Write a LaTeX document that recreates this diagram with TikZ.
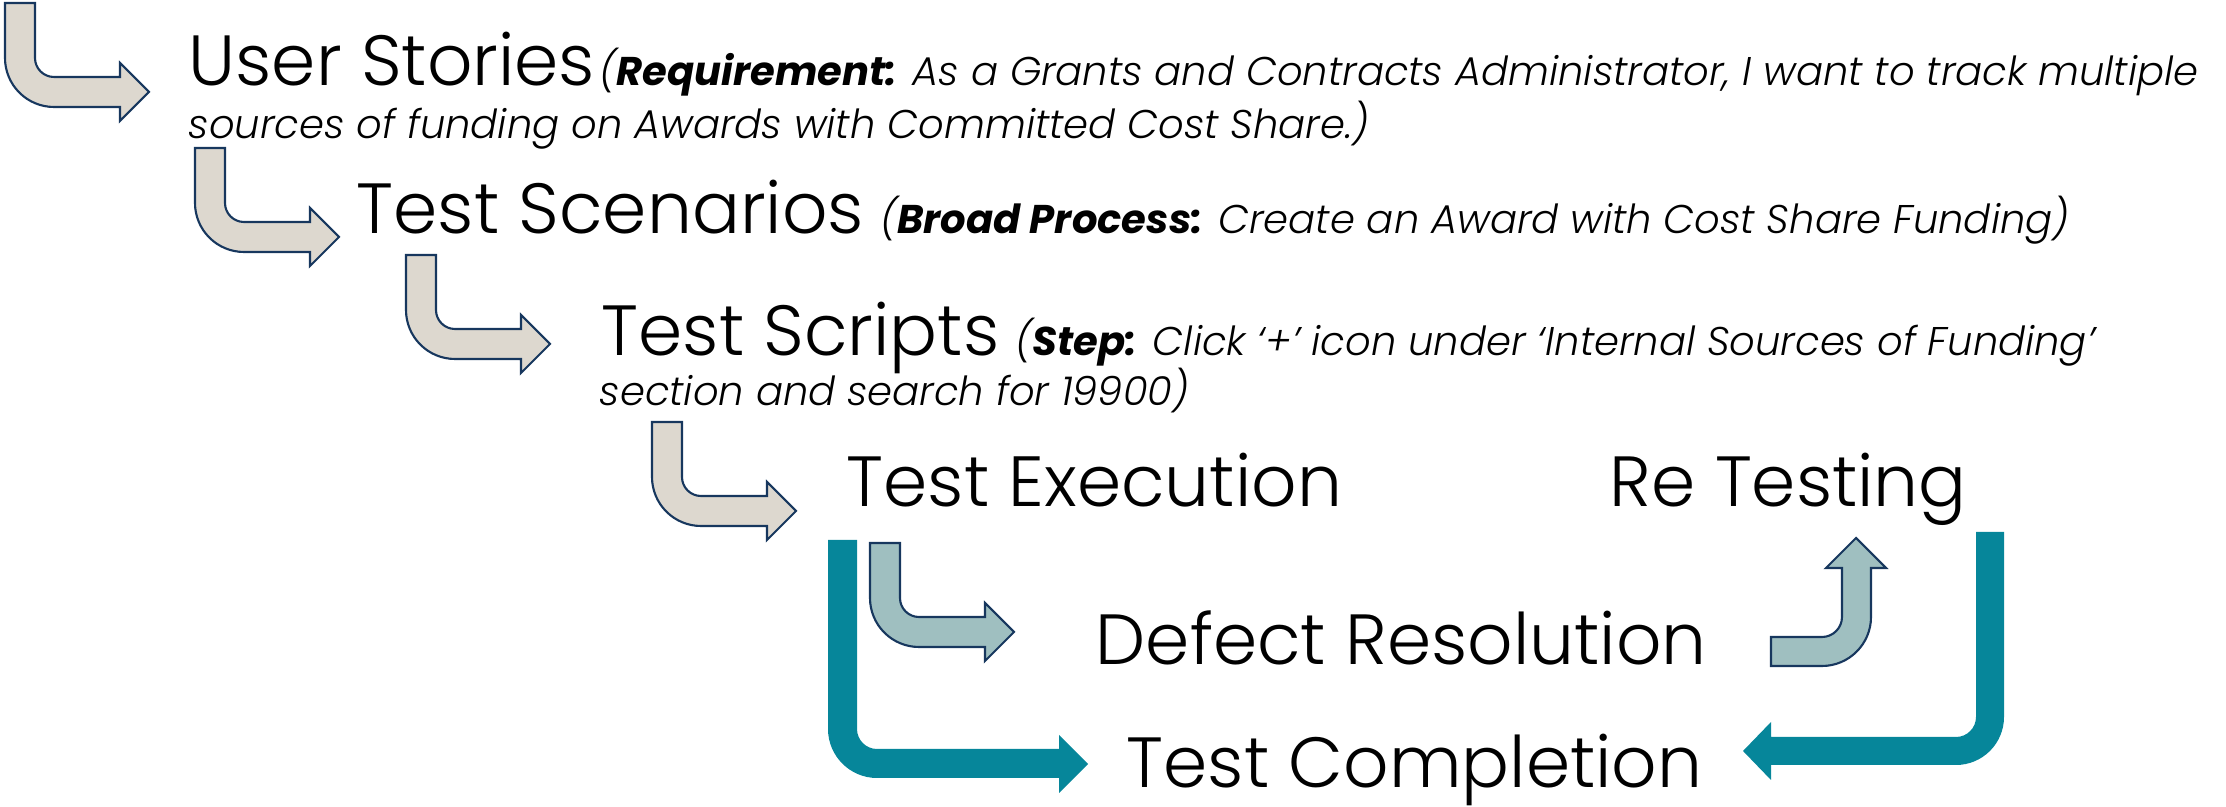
\documentclass[tikz,border=0pt]{standalone}
\usepackage{fontspec}
\setmainfont{Poppins}
\newfontfamily\lightfont{Poppins Light}
\usepackage{tikz}
\usetikzlibrary{calc,positioning}

\definecolor{cBeige}{RGB}{221,216,207}
\definecolor{cNavy}{RGB}{23,55,94}
\definecolor{cPale}{RGB}{159,191,192}
\definecolor{cTeal}{RGB}{6,134,154}

\newcommand{\keyword}[1]{{\rmfamily\bfseries #1}}

\tikzset{
    bigtext/.style={anchor=base west, inner sep=0pt, font=\lightfont\fontsize{20.2}{24}\selectfont},
    desctext/.style={anchor=base west, inner sep=0pt, font=\lightfont\fontsize{11.4}{15}\selectfont\itshape},
    bendarrow/.style={draw=cNavy, line width=0.6pt, line join=miter},
}

\begin{document}
\begin{tikzpicture}[x=0.01cm, y=-0.01cm]
       \useasboundingbox (0,0) rectangle (2226,807);

       %小的彎箭頭
       \foreach \x/\y/\c in
       {5/3/cBeige,
           195/148/cBeige,
           406/255/cBeige,
           652/422/cBeige,
           870/543/cPale}
        {
            \begin{scope}[shift={(\x,\y)}]
                \draw[bendarrow, fill=\c] (0,0) -- (30,0) -- (30,55) .. controls (30,65.5) and (38.5,74) .. (49,74) -- (115,74) -- (115,60) -- (144,89) -- (115,118) -- (115,104) -- (49,104) .. controls (22,104) and (0,82) .. (0,55) -- cycle;
            \end{scope}
        };

       %往上的彎箭頭
       \draw[bendarrow, fill=cPale] (1771,637) -- (1822,637) .. controls (1833,637) and (1842,628) .. (1842,617) -- (1842,568) -- (1826,568) -- (1856,538) -- (1886,568) -- (1871,568) -- (1871,617) .. controls (1871,644) and (1849,666) .. (1822,666) -- (1771,666) -- cycle;

       %大的藍綠色箭頭
       \begin{scope}[shift={(828,540)}]
           \fill[cTeal] (0,0) -- (29,0) -- (29,189) .. controls (29,200) and (38,209) .. (49,209) -- (231,209) -- (231,195) -- (260,224) -- (231,253) -- (231,238) -- (49,238) .. controls (22,238) and (0,216) .. (0,189) -- cycle;
       \end{scope}
       \begin{scope}[shift={(2004,532)}, xscale=-1]
           \fill[cTeal] (0,0) -- (28,0) -- (28,185) .. controls (28,196) and (37,205) .. (48,205) -- (233,205) -- (233,190) -- (261,219) -- (233,248) -- (233,233) -- (48,233) .. controls (21.5,233) and (0,211.5) .. (0,185) -- cycle;
       \end{scope}

       %文字
       \node[bigtext] (nUser) at (188,86) {User Stories};
       \node[desctext, right=0.03cm of nUser.base east, anchor=base west] (nUserA) {(\keyword{Requirement:} As a Grants and Contracts Administrator, I want to track multiple};
       \node[desctext] (nUserB) at ($(nUser.base west)+(0,53)$) {sources of funding on Awards with Committed Cost Share.)};

       \node[bigtext] (nScen) at (356,234) {Test Scenarios};
       \node[desctext, right=0.15cm of nScen.base east, anchor=base west] (nScenA) {(\keyword{Broad Process:} Create an Award with Cost Share Funding)};

       \node[bigtext] (nScript) at (601,356) {Test Scripts};
       \node[desctext, right=0.15cm of nScript.base east, anchor=base west] (nScriptA) {(\keyword{Step:} Click ‘+’ icon under ‘Internal Sources of Funding’};
       \node[desctext] (nScriptB) at ($(nScript.base west)+(-2,50)$) {section and search for 19900)};

       \node[bigtext] (nExec) at (846,507) {Test Execution};
       \node[bigtext] (nRetest) at (1609,507) {Re Testing};
       \node[bigtext] (nDefect) at (1095,665) {Defect Resolution};
       \node[bigtext] (nDone) at (1126,788) {Test Completion};
       %
\end{tikzpicture}
\end{document}
